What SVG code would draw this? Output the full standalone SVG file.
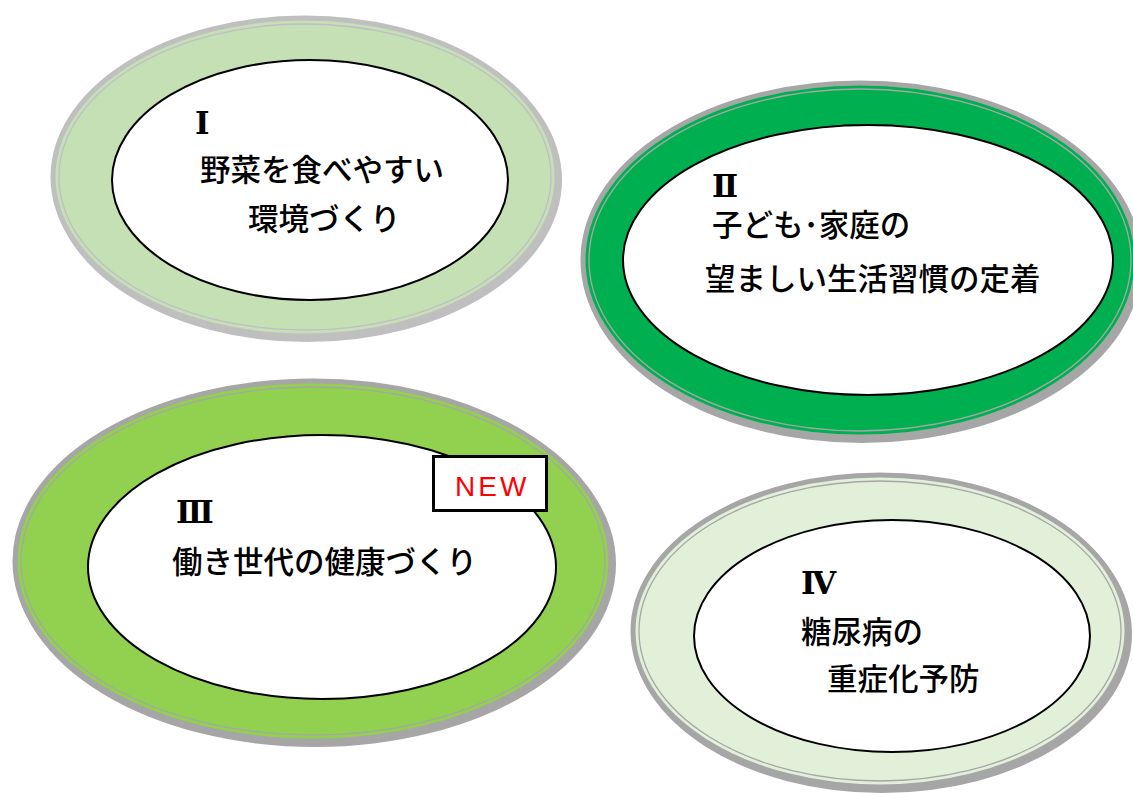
<svg xmlns="http://www.w3.org/2000/svg" width="1133" height="793" viewBox="0 0 1133 793">
<style>
.sh{fill:#a6a6a6}
.ring{stroke:#a6a6a6;stroke-width:5}
.line{fill:none;stroke:#a6a6a6;stroke-width:1.3}
.in{fill:#fff;stroke:#000;stroke-width:2}
.t{font-family:"Noto Sans CJK JP","Noto Sans CJK SC",sans-serif;font-size:30.5px;font-weight:500;fill:#000}
.n{font-family:"DejaVu Serif","Liberation Serif","Noto Sans CJK JP",serif;font-size:31px;font-weight:bold;fill:#000}
</style>
<rect width="1133" height="793" fill="#fff"/>
<g id="node1">
<ellipse cx="307" cy="180" rx="255" ry="162" style="fill:#bfbfbf"/>
<ellipse class="ring" cx="305" cy="177" rx="252" ry="159" fill="#c5e0b4" style="stroke:#bfbfbf"/>
<ellipse class="line" cx="305" cy="177" rx="246" ry="153" style="stroke:#c0bcc8"/>
<ellipse class="in" cx="310" cy="180" rx="198" ry="120"/>
<text class="n" x="195" y="134">Ⅰ</text>
<text class="t" x="200" y="181">野菜を食べやすい</text>
<text class="t" x="248" y="230">環境づくり</text>
</g>
<g id="node2">
<ellipse class="sh" cx="862" cy="263" rx="280" ry="180"/>
<ellipse class="ring" cx="860" cy="260" rx="277" ry="177" fill="#00b050"/>
<ellipse class="line" cx="860" cy="260" rx="271" ry="171"/>
<ellipse class="in" cx="868" cy="260" rx="245" ry="135"/>
<text class="n" x="712" y="197">Ⅱ</text>
<text class="t" x="712" y="236">子ども･家庭の</text>
<text class="t" x="705" y="290">望ましい生活習慣の定着</text>
</g>
<g id="node3">
<ellipse class="sh" cx="315" cy="564" rx="301" ry="183"/>
<ellipse class="ring" cx="313" cy="561" rx="298" ry="180" fill="#92d050"/>
<ellipse class="line" cx="313" cy="561" rx="292" ry="174"/>
<ellipse class="in" cx="322" cy="567" rx="234" ry="132"/>
<text class="n" x="176" y="523">Ⅲ</text>
<text class="t" x="172" y="573">働き世代の健康づくり</text>
</g>
<g id="badge">
<rect x="433.5" y="456.5" width="113" height="54" fill="#fff" stroke="#000" stroke-width="3"/>
<text x="455" y="496" font-family="'Liberation Sans',Arial,sans-serif" font-size="28" fill="#ff0000" letter-spacing="3">NEW</text>
</g>
<g id="node4">
<ellipse class="sh" cx="882" cy="634" rx="250" ry="159"/>
<ellipse class="ring" cx="880" cy="631" rx="247" ry="156" fill="#e2f0d9"/>
<ellipse class="line" cx="880" cy="631" rx="241" ry="150"/>
<ellipse class="in" cx="892" cy="636" rx="198" ry="116"/>
<text class="n" x="801" y="594">Ⅳ</text>
<text class="t" x="801" y="643">糖尿病の</text>
<text class="t" x="827" y="690">重症化予防</text>
</g>
<g id="connectors"/>
</svg>
